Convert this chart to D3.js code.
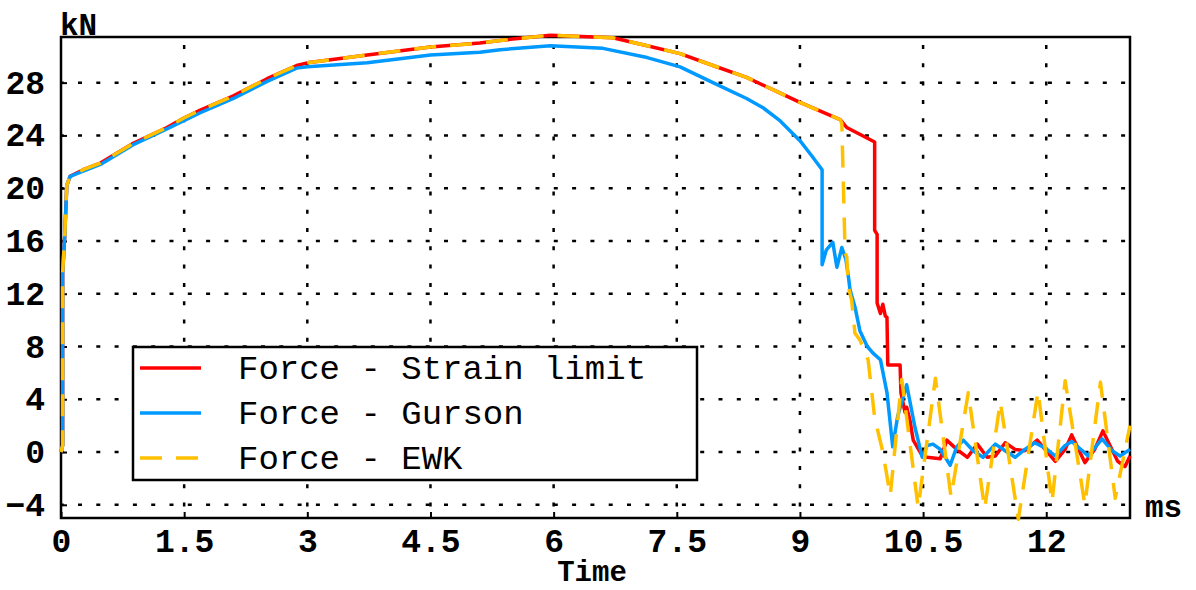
<!DOCTYPE html>
<html>
<head>
<meta charset="utf-8">
<script src="https://cdn.jsdelivr.net/npm/d3@7"></script>
<style>
  body { margin: 0; background: #fff; }
  .chart text { font-family: "Liberation Mono", "DejaVu Sans Mono", monospace; fill: #000; }
</style>
</head>
<body>
<div class="chart"></div>
<script>
var values = {
  width: 1196,
  height: 590,
  left: 61,
  right: 1130,
  top: 37,
  bottom: 518
};

// time (ms), force (kN)
var strainLimit = [
  [0, 0], [0.02, 0.5], [0.02, 13.6], [0.045, 16.3], [0.07, 20.2], [0.11, 20.9], [0.27, 21.4],
  [0.48, 21.9], [0.88, 23.4], [1.29, 24.6], [1.49, 25.3], [1.69, 25.9], [2.1, 27.0], [2.51, 28.3],
  [2.87, 29.3], [3.0, 29.5], [3.73, 30.1], [4.5, 30.7], [5.1, 31.0], [5.35, 31.2], [5.96, 31.6],
  [6.72, 31.4], [7.14, 30.8], [7.54, 30.2], [7.94, 29.3], [8.35, 28.4], [8.76, 27.2], [9.0, 26.5],
  [9.49, 25.2], [9.57, 24.6], [9.91, 23.5], [9.91, 16.8], [9.94, 16.5], [9.94, 11.3], [9.98, 10.5],
  [10.01, 11.2], [10.04, 10.3], [10.06, 10.2], [10.07, 6.6], [10.22, 6.6], [10.23, 4.5], [10.28, 3.0],
  [10.30, 3.4], [10.34, 2.4], [10.38, 0.9], [10.49, -0.3], [10.55, -0.4], [10.71, -0.5], [10.79, 0.9],
  [10.91, 0.2], [11.04, -0.4], [11.16, 0.6], [11.28, -0.4], [11.38, -0.3], [11.50, 0.7], [11.62, 0.2],
  [11.74, 0.1], [11.89, 0.9], [12.11, -0.7], [12.23, 0.2], [12.31, 1.3], [12.47, -0.8], [12.59, 0.2],
  [12.69, 1.6], [12.87, -0.7], [12.96, -1.1], [13.02, -0.3]
];

var gurson = [
  [0, 0], [0.02, 0.5], [0.02, 13.6], [0.045, 16.3], [0.07, 20.2], [0.11, 20.9], [0.27, 21.3],
  [0.48, 21.8], [0.88, 23.3], [1.29, 24.5], [1.49, 25.1], [1.69, 25.7], [2.1, 26.8], [2.51, 28.1],
  [2.87, 29.1], [3.0, 29.2], [3.73, 29.5], [4.5, 30.1], [5.1, 30.3], [5.35, 30.5], [5.96, 30.8],
  [6.6, 30.6], [7.14, 29.9], [7.54, 29.2], [7.94, 28.0], [8.35, 26.8], [8.55, 26.1], [8.76, 25.1],
  [9.0, 23.6], [9.15, 22.4], [9.27, 21.4], [9.27, 14.2], [9.32, 15.3], [9.40, 15.9], [9.45, 14.0],
  [9.51, 15.5], [9.56, 14.6], [9.59, 13.3], [9.61, 12.3], [9.67, 11.0], [9.73, 9.2], [9.82, 8.0],
  [9.89, 7.5], [9.98, 7.0], [10.06, 4.5], [10.13, 0.4], [10.19, 2.7], [10.30, 5.1], [10.40, 1.9],
  [10.49, -0.4], [10.55, 0.5], [10.62, 0.6], [10.71, 0.2], [10.83, -1.0], [10.91, 0.4], [10.99, 0.9],
  [11.11, 0.1], [11.23, -0.4], [11.38, 0.6], [11.50, 0.1], [11.62, -0.4], [11.74, 0.2], [11.86, 0.7],
  [11.99, 0.3], [12.11, -0.3], [12.23, 0.5], [12.31, 0.8], [12.44, 0.1], [12.51, -0.3], [12.68, 1.0],
  [12.80, 0.1], [12.90, -0.3], [13.02, 0.2]
];

var ewk = [
  [0, 0], [0.02, 0.5], [0.02, 13.6], [0.045, 16.3], [0.07, 20.2], [0.11, 20.9], [0.27, 21.4],
  [0.48, 21.9], [0.88, 23.4], [1.29, 24.6], [1.49, 25.3], [1.69, 25.9], [2.1, 27.0], [2.51, 28.3],
  [2.87, 29.3], [3.0, 29.5], [3.73, 30.1], [4.5, 30.7], [5.1, 31.0], [5.35, 31.2], [5.96, 31.6],
  [6.72, 31.4], [7.14, 30.8], [7.54, 30.2], [7.94, 29.3], [8.35, 28.4], [8.76, 27.2], [9.0, 26.5],
  [9.49, 25.2], [9.51, 24.9], [9.53, 20.0], [9.55, 15.1], [9.57, 14.8], [9.59, 12.5], [9.63, 11.5],
  [9.67, 9.0], [9.73, 8.5], [9.83, 7.0], [9.91, 2.6], [10.01, 0], [10.10, -3.3], [10.24, 5.5],
  [10.44, -4.2], [10.65, 5.6], [10.84, -3.4], [11.05, 4.5], [11.25, -4.3], [11.44, 3.8], [11.66, -5.1],
  [11.90, 4.6], [12.07, -3.8], [12.23, 5.4], [12.47, -4.0], [12.66, 5.3], [12.84, -3.5], [13.02, 2.0]
];

var seriesNames = ["Force - Strain limit", "Force - Gurson", "Force - EWK"];
var seriesColors = ["#ff0000", "#0099ff", "#ffc000"];
var xTicks = [0, 1.5, 3, 4.5, 6, 7.5, 9, 10.5, 12];
var yTicks = [-4, 0, 4, 8, 12, 16, 20, 24, 28];

var x = d3.scaleLinear().domain([0, 13.02]).range([values.left, values.right]);
var y = d3.scaleLinear().domain([-5, 31.46]).range([values.bottom, values.top]);

var svg = d3.select('.chart')
  .append('svg')
  .attr('width', values.width)
  .attr('height', values.height);

// dotted grid
svg.append('g')
  .selectAll('line')
  .data(yTicks)
  .enter()
  .append('line')
  .attr('x1', values.left)
  .attr('x2', values.right)
  .attr('y1', d => y(d))
  .attr('y2', d => y(d))
  .attr('stroke', '#000')
  .attr('stroke-width', 2.5)
  .attr('stroke-dasharray', '4,14.3')
  .attr('stroke-dashoffset', 1.3);

svg.append('g')
  .selectAll('line')
  .data(xTicks.filter(d => d > 0))
  .enter()
  .append('line')
  .attr('x1', d => x(d))
  .attr('x2', d => x(d))
  .attr('y1', values.top)
  .attr('y2', values.bottom)
  .attr('stroke', '#000')
  .attr('stroke-width', 2.5)
  .attr('stroke-dasharray', '4,14.3')
  .attr('stroke-dashoffset', -8);

// frame
svg.append('rect')
  .attr('x', values.left)
  .attr('y', values.top)
  .attr('width', values.right - values.left)
  .attr('height', values.bottom - values.top)
  .attr('fill', 'none')
  .attr('stroke', '#000')
  .attr('stroke-width', 2.5);

var xAxis = d3.axisBottom(x).tickValues(xTicks).tickSize(-6).tickPadding(11)
  .tickFormat(d => String(d));
var yAxis = d3.axisLeft(y).tickValues(yTicks).tickSize(-6).tickPadding(16)
  .tickFormat(d => d < 0 ? '\u2212' + Math.abs(d) : String(d));

var gx = svg.append('g')
  .attr('transform', 'translate(0,' + values.bottom + ')')
  .call(xAxis);
var gy = svg.append('g')
  .attr('transform', 'translate(' + values.left + ',0)')
  .call(yAxis);

[gx, gy].forEach(g => {
  g.select('.domain').remove();
  g.selectAll('line').attr('stroke', '#000').attr('stroke-width', 2);
  g.selectAll('text')
    .attr('fill', '#000')
    .style('font-family', '"Liberation Mono", monospace')
    .style('font-size', '33px')
    .style('font-weight', 'bold');
});

// axis labels
svg.append('text')
  .attr('x', 592)
  .attr('y', 581)
  .attr('text-anchor', 'middle')
  .style('font-size', '29px')
  .style('font-weight', 'bold')
  .text('Time');

svg.append('text')
  .attr('x', 60)
  .attr('y', 35)
  .style('font-size', '31px')
  .style('font-weight', 'bold')
  .text('kN');

svg.append('text')
  .attr('x', 1145)
  .attr('y', 517)
  .style('font-size', '31px')
  .style('font-weight', 'bold')
  .text('ms');

// legend box
var legend = svg.append('g');
legend.append('rect')
  .attr('x', 133)
  .attr('y', 347)
  .attr('width', 564)
  .attr('height', 133)
  .attr('fill', '#fff')
  .attr('stroke', '#000')
  .attr('stroke-width', 2.5);

var rows = legend.selectAll('g.row')
  .data(seriesNames)
  .enter()
  .append('g')
  .attr('class', 'row')
  .attr('transform', (d, i) => 'translate(0,' + (368 + i * 45) + ')');

rows.append('line')
  .attr('x1', 140)
  .attr('x2', 201)
  .attr('stroke', (d, i) => seriesColors[i])
  .attr('stroke-width', 3.5)
  .attr('stroke-dasharray', (d, i) => i === 2 ? '22,14' : null);

rows.append('text')
  .attr('x', 238)
  .attr('y', 11)
  .style('font-size', '34px')
  .text(d => d);

// curves: red first, blue, then dashed yellow on top
var line = d3.line()
  .x(d => x(d[0]))
  .y(d => y(d[1]));

[strainLimit, gurson, ewk].forEach((series, i) => {
  svg.append('path')
    .datum(series)
    .attr('d', line)
    .attr('fill', 'none')
    .attr('stroke', seriesColors[i])
    .attr('stroke-width', 3.5)
    .attr('stroke-linejoin', 'round')
    .attr('stroke-dasharray', i === 2 ? '22,14' : null);
});
</script>
</body>
</html>
